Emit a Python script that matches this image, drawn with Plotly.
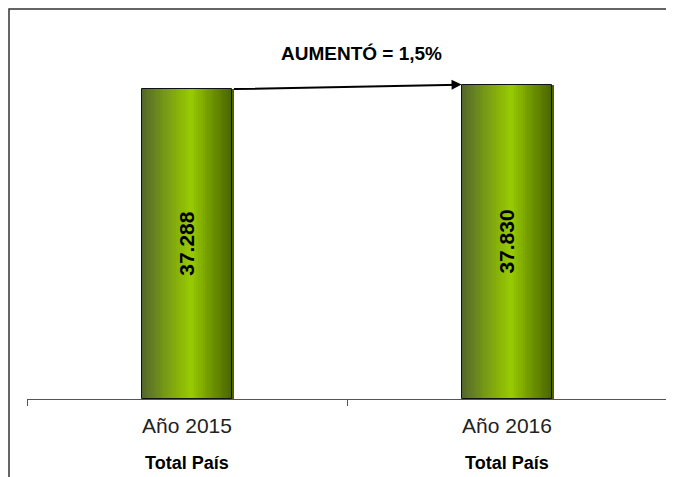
import plotly.graph_objects as go

categories = ["Año 2015", "Año 2016"]
values = [37288, 37830]
value_labels = ["37.288", "37.830"]
sub_label = "Total País"
change_text = "AUMENTÓ = 1,5%"

BAR_W = 0.284
N_STRIPS = 40
EDGE_L = (82, 100, 45)
CENTER = (153, 204, 0)
EDGE_R = (72, 98, 0)
PEAK = 0.55

# page is drawn with an 8px body margin, so pixel targets are page coords
AXIS_Y = 399
PLOT_H = 374
PLOT_L = 27
PLOT_W = 640


def _py(y):
    return (AXIS_Y - y) / PLOT_H


def _px(x):
    return (x - PLOT_L) / PLOT_W


def _mix(a, b, t):
    return tuple(round(a[k] + (b[k] - a[k]) * t) for k in range(3))


def _strip_color(f):
    if f < PEAK:
        c = _mix(EDGE_L, CENTER, (f / PEAK) ** 0.9)
    else:
        c = _mix(CENTER, EDGE_R, ((f - PEAK) / (1 - PEAK)) ** 0.9)
    return "rgb(%d,%d,%d)" % c


fig = go.Figure()

# horizontal gradient made of thin overlaid bars
step = BAR_W / N_STRIPS
for i in range(N_STRIPS):
    f = (i + 0.5) / N_STRIPS
    fig.add_trace(go.Bar(
        x=categories, y=values,
        width=step * 1.6, offset=-BAR_W / 2 + i * step,
        marker=dict(color=_strip_color(f), line=dict(width=0)),
        hoverinfo="skip", showlegend=False,
    ))

# outline + value labels
fig.add_trace(go.Bar(
    x=categories, y=values, width=BAR_W, offset=-BAR_W / 2,
    marker=dict(color="rgba(0,0,0,0)", line=dict(color="#111", width=1)),
    text=["<b>%s</b>" % t for t in value_labels],
    textposition="inside", insidetextanchor="middle",
    textangle=-90, textfont=dict(family="Arial", size=21, color="black"),
    showlegend=False,
))

fig.add_annotation(
    x=1 - BAR_W / 2, y=values[1], ax=BAR_W / 2, ay=values[0],
    xref="x", yref="y", axref="x", ayref="y",
    showarrow=True, arrowhead=2, arrowsize=1, arrowwidth=2,
    arrowcolor="black", text="", standoff=0,
)
fig.add_annotation(
    x=_px(361), y=_py(54), xref="paper", yref="paper", yanchor="middle",
    showarrow=False, text="<b>%s</b>" % change_text,
    font=dict(family="Arial", size=19, color="black"),
)

for c in categories:
    fig.add_annotation(
        x=c, y=_py(463), xref="x", yref="paper",
        yanchor="middle", showarrow=False,
        text="<b>%s</b>" % sub_label,
        font=dict(family="Arial", size=18, color="black"),
    )

# outer frame (left and top edges only show)
fig.add_shape(
    type="path", xref="paper", yref="paper",
    path="M %f %f L %f %f L %f %f" % (_px(9), -0.4, _px(9), _py(9), 1.2, _py(9)),
    line=dict(color="#333", width=1.5), layer="below",
)

fig.update_layout(
    width=666, height=469,
    margin=dict(l=19, r=7, t=17, b=78),
    barmode="overlay", bargap=0,
    paper_bgcolor="white", plot_bgcolor="white",
    font=dict(family="Arial", color="black"),
    xaxis=dict(
        type="category", range=[-0.5, 1.5], tickson="boundaries",
        ticks="outside", ticklen=6, tickcolor="#555",
        ticklabelstandoff=8,
        showline=True, linecolor="#555", linewidth=1,
        showgrid=False, tickfont=dict(family="Arial", size=21, color="#222"),
    ),
    yaxis=dict(range=[0, 45000], visible=False, showgrid=False),
)

fig.write_html("out.html")
